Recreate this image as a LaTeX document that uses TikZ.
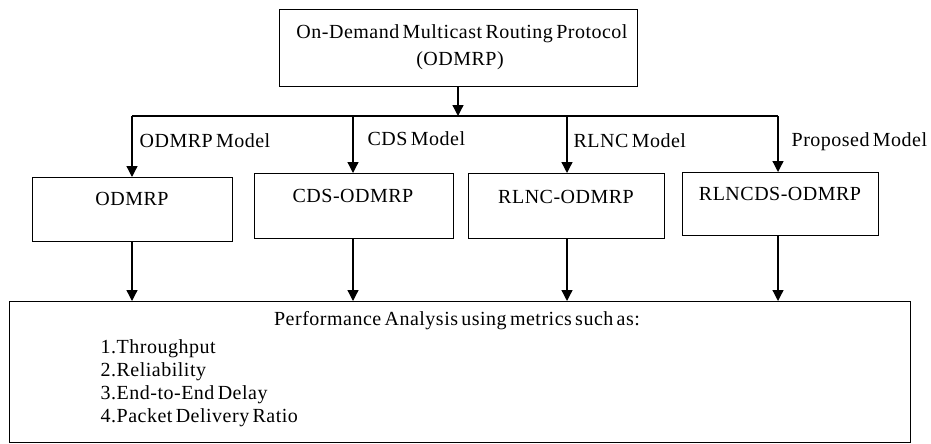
\documentclass[tikz,border=0pt]{standalone}
\usepackage{fontspec}
\setmainfont[LetterSpace=2.5,WordSpace=0.6]{Liberation Serif}
\usetikzlibrary{arrows.meta}
\begin{document}
\begin{tikzpicture}[x=1pt,y=-1pt,
  line width=1.3pt,
  font=\fontsize{20}{23}\selectfont,
  frame/.style={draw, inner sep=0pt, anchor=north west},
  txt/.style={inner sep=0pt, anchor=base},
  lbl/.style={inner sep=0pt, anchor=base west},
  arr/.style={-{Triangle[width=11pt,length=11pt]}}]
  \useasboundingbox (0,0) rectangle (931,444);

  % boxes
  \node[frame, minimum width=358pt, minimum height=77pt] (top) at (279,9) {};
  \node[frame, minimum width=200pt, minimum height=64pt] (b1) at (32,177) {};
  \node[frame, minimum width=199pt, minimum height=65pt] (b2) at (254,173) {};
  \node[frame, minimum width=196pt, minimum height=65pt] (b3) at (468,173) {};
  \node[frame, minimum width=196pt, minimum height=63pt] (b4) at (682,172) {};
  \node[frame, minimum width=901pt, minimum height=141pt] (perf) at (9,301) {};

  % box texts
  \node[txt] (t1) at (462,38) {On-Demand Multicast Routing Protocol};
  \node[txt] (t2) at (460,66) {(ODMRP)};
  \node[txt] (n1) at (132,205) {ODMRP};
  \node[txt] (n2) at (353,202) {CDS-ODMRP};
  \node[txt] (n3) at (566,203) {RLNC-ODMRP};
  \node[txt] (n4) at (780,200) {RLNCDS-ODMRP};
  \node[txt] (ph) at (457,325) {Performance Analysis using metrics such as:};
  \node[lbl] (m1) at (100,353) {1.Throughput};
  \node[lbl] (m2) at (100,376) {2.Reliability};
  \node[lbl] (m3) at (100,399) {3.End-to-End Delay};
  \node[lbl] (m4) at (100,422) {4.Packet Delivery Ratio};

  % branch labels
  \node[lbl] (l1) at (139,147) {ODMRP Model};
  \node[lbl] (l2) at (367,145) {CDS Model};
  \node[lbl] (l3) at (573,147) {RLNC Model};
  \node[lbl] (l4) at (791,146) {Proposed Model};

  % distribution bus
  \coordinate (j0) at (458,116);
  \coordinate (j1) at (132,116);
  \coordinate (j2) at (353,116);
  \coordinate (j3) at (567,116);
  \coordinate (j4) at (778,116);
  \draw (j1) -- (j4);
  \draw[arr] (top.south -| j0) -- (j0);
  \draw[arr] (j1) -- (j1 |- b1.north);
  \draw[arr] (j2) -- (j2 |- b2.north);
  \draw[arr] (j3) -- (j3 |- b3.north);
  \draw[arr] (j4) -- (j4 |- b4.north);

  % into the analysis box
  \draw[arr] (j1 |- b1.south) -- (j1 |- perf.north);
  \draw[arr] (j2 |- b2.south) -- (j2 |- perf.north);
  \draw[arr] (j3 |- b3.south) -- (j3 |- perf.north);
  \draw[arr] (j4 |- b4.south) -- (j4 |- perf.north);
\end{tikzpicture}
\end{document}
